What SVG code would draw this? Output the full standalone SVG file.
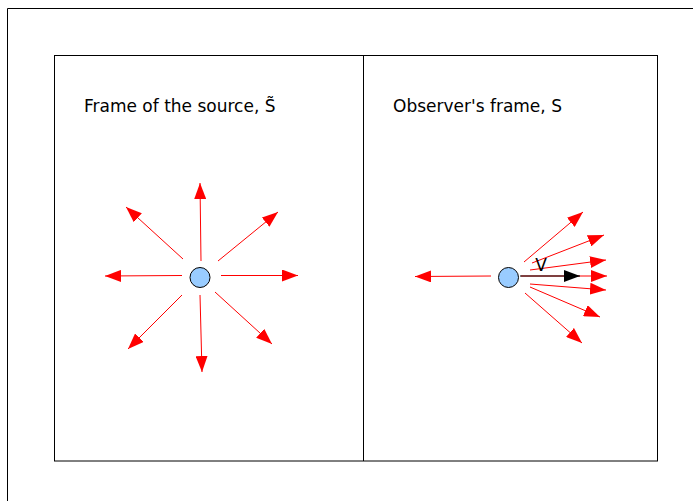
<svg xmlns="http://www.w3.org/2000/svg" width="693" height="501" viewBox="0 0 693 501">
<style>
.frame{fill:none;stroke:#000;stroke-width:1}
.ray{stroke:#ff0000;stroke-width:1;fill:none;marker-end:url(#rh)}
.vel{stroke:#000;stroke-width:1.2;fill:none;marker-end:url(#bh)}
.src{fill:#99ccff;stroke:#000;stroke-width:1}
.lbl{font-family:"DejaVu Sans",sans-serif;font-size:17px;fill:#000}
</style>
<defs>
<marker id="rh" markerWidth="16" markerHeight="12" refX="16" refY="6" orient="auto" markerUnits="userSpaceOnUse">
<path d="M0,0 L16,6 L0,12 Z" fill="#ff0000"/>
</marker>
<marker id="bh" markerWidth="16" markerHeight="12" refX="16" refY="6" orient="auto" markerUnits="userSpaceOnUse">
<path d="M0,0 L16,6 L0,12 Z" fill="#000"/>
</marker>
</defs>
<rect width="693" height="501" fill="#fff"/>
<g id="outer"><path class="frame" d="M7.5,501 V8.5 H693"/></g>
<g id="panels">
<rect class="frame" x="54.5" y="55.5" width="603" height="405.5"/>
<line class="frame" x1="363.5" y1="55.5" x2="363.5" y2="461"/>
</g>
<g id="connectors">
<line class="ray" x1="201" y1="261" x2="200" y2="183"/>
<line class="ray" x1="183" y1="259" x2="126" y2="207"/>
<line class="ray" x1="218" y1="261" x2="278" y2="212"/>
<line class="ray" x1="182" y1="275.5" x2="105" y2="276"/>
<line class="ray" x1="221" y1="275.5" x2="298" y2="275.5"/>
<line class="ray" x1="182" y1="295" x2="128" y2="349"/>
<line class="ray" x1="200" y1="295" x2="202" y2="372"/>
<line class="ray" x1="215" y1="292" x2="272" y2="344"/>
<line class="ray" x1="491" y1="276" x2="415" y2="276.5"/>
<line class="ray" x1="524" y1="262" x2="583" y2="212"/>
<line class="ray" x1="532" y1="263" x2="604" y2="235"/>
<line class="ray" x1="530" y1="270" x2="606" y2="260"/>
<line class="ray" x1="521" y1="276" x2="607" y2="276"/>
<line class="ray" x1="530" y1="284" x2="606" y2="290"/>
<line class="ray" x1="530" y1="287" x2="600" y2="317"/>
<line class="ray" x1="525" y1="293" x2="582" y2="343"/>
<line class="vel" x1="520" y1="276" x2="580" y2="276"/>
</g>
<g id="source-left"><circle class="src" cx="200" cy="277.5" r="10"/></g>
<g id="source-right"><circle class="src" cx="508.5" cy="277.5" r="10"/></g>
<g id="title-left"><text class="lbl" x="84" y="112">Frame of the source, S̃</text></g>
<g id="title-right"><text class="lbl" x="393" y="112">Observer's frame, S</text></g>
<g id="v-label"><text class="lbl" x="541" y="271" text-anchor="middle" font-size="16">V</text></g>
</svg>
